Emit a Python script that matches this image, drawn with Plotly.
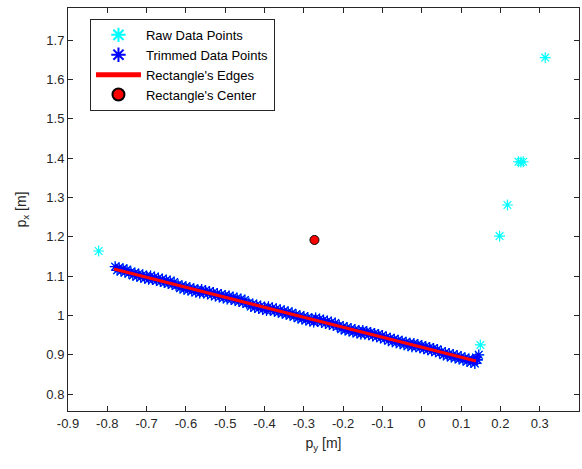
import plotly.graph_objects as go

# ---- data ----
outlier_x = [-0.822, 0.149, 0.198, 0.218, 0.246, 0.252, 0.258, 0.314]
outlier_y = [1.164, 0.925, 1.202, 1.281, 1.391, 1.390, 1.391, 1.656]

trim_upper_x = [-0.78, -0.77, -0.76, -0.75, -0.74, -0.73, -0.72, -0.71, -0.70, -0.69,
                -0.68, -0.67, -0.66, -0.65, -0.64, -0.63, -0.62, -0.61, -0.60, -0.59,
                -0.58, -0.57, -0.56, -0.55, -0.54, -0.53, -0.52, -0.51, -0.50, -0.49,
                -0.48, -0.47, -0.46, -0.45, -0.44, -0.43, -0.42, -0.41, -0.40, -0.39,
                -0.38, -0.37, -0.36, -0.35, -0.34, -0.33, -0.32, -0.31, -0.30, -0.29,
                -0.28, -0.27, -0.26, -0.25, -0.24, -0.23, -0.22, -0.21, -0.20, -0.19,
                -0.18, -0.17, -0.16, -0.15, -0.14, -0.13, -0.12, -0.11, -0.10, -0.09,
                -0.08, -0.07, -0.06, -0.05, -0.04, -0.03, -0.02, -0.01, 0.00, 0.01,
                0.02, 0.03, 0.04, 0.05, 0.06, 0.07, 0.08, 0.09, 0.10, 0.11,
                0.12, 0.13, 0.14, 0.145, 0.138, 0.142]
trim_upper_y = [1.1242, 1.1217, 1.1192, 1.1166, 1.1111, 1.1085, 1.1060, 1.1035, 1.1009, 1.1004,
                1.0978, 1.0953, 1.0927, 1.0902, 1.0877, 1.0851, 1.0786, 1.0760, 1.0735, 1.0710,
                1.0684, 1.0659, 1.0663, 1.0638, 1.0613, 1.0587, 1.0562, 1.0536, 1.0511, 1.0496,
                1.0470, 1.0445, 1.0419, 1.0394, 1.0319, 1.0293, 1.0268, 1.0242, 1.0217, 1.0222,
                1.0196, 1.0171, 1.0145, 1.0120, 1.0095, 1.0069, 1.0024, 0.9998, 0.9973, 0.9948,
                0.9922, 0.9937, 0.9911, 0.9886, 0.9861, 0.9835, 0.9810, 0.9744, 0.9719, 0.9694,
                0.9668, 0.9643, 0.9617, 0.9622, 0.9597, 0.9571, 0.9546, 0.9520, 0.9495, 0.9450,
                0.9424, 0.9399, 0.9373, 0.9348, 0.9323, 0.9297, 0.9292, 0.9266, 0.9241, 0.9216,
                0.9190, 0.9165, 0.9139, 0.9084, 0.9059, 0.9033, 0.9008, 0.8982, 0.8957, 0.8922,
                0.8896, 0.8871, 0.8875, 0.9000, 0.8930, 0.8870]

trim_lower_x = [-0.775, -0.765, -0.755, -0.745, -0.735, -0.725, -0.715, -0.705, -0.695, -0.685,
                -0.675, -0.665, -0.655, -0.645, -0.635, -0.625, -0.615, -0.605, -0.595, -0.585,
                -0.575, -0.565, -0.555, -0.545, -0.535, -0.525, -0.515, -0.505, -0.495, -0.485,
                -0.475, -0.465, -0.455, -0.445, -0.435, -0.425, -0.415, -0.405, -0.395, -0.385,
                -0.375, -0.365, -0.355, -0.345, -0.335, -0.325, -0.315, -0.305, -0.295, -0.285,
                -0.275, -0.265, -0.255, -0.245, -0.235, -0.225, -0.215, -0.205, -0.195, -0.185,
                -0.175, -0.165, -0.155, -0.145, -0.135, -0.125, -0.115, -0.105, -0.095, -0.085,
                -0.075, -0.065, -0.055, -0.045, -0.035, -0.025, -0.015, -0.005, 0.005, 0.015,
                0.025, 0.035, 0.045, 0.055, 0.065, 0.075, 0.085, 0.095, 0.105, 0.115,
                0.125, 0.135]
trim_lower_y = [1.1149, 1.1124, 1.1099, 1.1073, 1.1018, 1.0992, 1.0967, 1.0942, 1.0916, 1.0911,
                1.0885, 1.0860, 1.0834, 1.0809, 1.0784, 1.0758, 1.0693, 1.0667, 1.0642, 1.0617,
                1.0591, 1.0566, 1.0570, 1.0545, 1.0520, 1.0494, 1.0469, 1.0443, 1.0418, 1.0403,
                1.0377, 1.0352, 1.0326, 1.0301, 1.0226, 1.0200, 1.0175, 1.0149, 1.0124, 1.0129,
                1.0103, 1.0078, 1.0052, 1.0027, 1.0002, 0.9976, 0.9931, 0.9905, 0.9880, 0.9855,
                0.9829, 0.9844, 0.9818, 0.9793, 0.9768, 0.9742, 0.9717, 0.9651, 0.9626, 0.9601,
                0.9575, 0.9550, 0.9524, 0.9529, 0.9504, 0.9478, 0.9453, 0.9427, 0.9402, 0.9357,
                0.9331, 0.9306, 0.9280, 0.9255, 0.9230, 0.9204, 0.9199, 0.9173, 0.9148, 0.9123,
                0.9097, 0.9072, 0.9046, 0.8991, 0.8966, 0.8940, 0.8915, 0.8889, 0.8864, 0.8829,
                0.8803, 0.8778]

edge_x = [-0.783, 0.138]
edge_y = [1.118, 0.884]

center_x = [-0.273]
center_y = [1.192]

x_ticks = [-0.9, -0.8, -0.7, -0.6, -0.5, -0.4, -0.3, -0.2, -0.1, 0, 0.1, 0.2, 0.3]
y_ticks = [0.8, 0.9, 1.0, 1.1, 1.2, 1.3, 1.4, 1.5, 1.6, 1.7]
x_tick_text = ["-0.9", "-0.8", "-0.7", "-0.6", "-0.5", "-0.4", "-0.3", "-0.2", "-0.1", "0", "0.1", "0.2", "0.3"]
y_tick_text = ["0.8", "0.9", "1", "1.1", "1.2", "1.3", "1.4", "1.5", "1.6", "1.7"]

# ---- figure ----
trim_x = trim_upper_x + trim_lower_x
trim_y = trim_upper_y + trim_lower_y

FONT = "Liberation Sans, Arial, Helvetica, sans-serif"
AX = "#262626"

fig = go.Figure()
fig.add_trace(go.Scatter(
    x=trim_x + outlier_x, y=trim_y + outlier_y, mode="markers", name="Raw Data Points",
    marker=dict(symbol="asterisk-open", size=9, color="#00FFFF", line=dict(color="#00FFFF", width=1.2)),
))
fig.add_trace(go.Scatter(
    x=trim_x, y=trim_y, mode="markers", name="Trimmed Data Points",
    marker=dict(symbol="asterisk-open", size=9, color="#0000FF", line=dict(color="#0000FF", width=1.2)),
))
fig.add_trace(go.Scatter(
    x=edge_x, y=edge_y, mode="lines", name="Rectangle's Edges",
    line=dict(color="#FF0000", width=3),
))
fig.add_trace(go.Scatter(
    x=center_x, y=center_y, mode="markers", name="Rectangle's Center",
    marker=dict(symbol="circle", size=9, color="#FF0000", line=dict(color="#000000", width=1)),
))

axis_common = dict(
    showgrid=False, zeroline=False, showline=True, linecolor=AX, linewidth=1,
    mirror="ticks", ticks="inside", ticklen=5, tickcolor=AX, tickwidth=1,
    tickfont=dict(family=FONT, size=13, color=AX), automargin=False,
)
fig.update_xaxes(range=[-0.9, 0.4], tickvals=x_ticks, ticktext=x_tick_text,
                 title=dict(text="p<sub>y</sub> [m]", font=dict(family=FONT, size=14, color=AX), standoff=8),
                 **axis_common)
fig.update_yaxes(range=[0.757, 1.782], tickvals=y_ticks, ticktext=y_tick_text,
                 title=dict(text="p<sub>x</sub> [m]", font=dict(family=FONT, size=14, color=AX), standoff=16),
                 **axis_common)

fig.update_layout(
    width=582, height=469,
    margin=dict(l=68, r=3, t=8, b=58),
    paper_bgcolor="white", plot_bgcolor="white",
    font=dict(family=FONT, size=13, color="#000000"),
    legend=dict(x=0.043, y=0.973, xanchor="left", yanchor="top",
                bgcolor="white", bordercolor=AX, borderwidth=1,
                font=dict(family=FONT, size=13, color="#000000"),
                tracegroupgap=0, itemsizing="constant", itemwidth=45),
    showlegend=True,
)

fig.write_html("out.html", config={"displayModeBar": False},
               post_script="document.body.style.margin='0px';")
